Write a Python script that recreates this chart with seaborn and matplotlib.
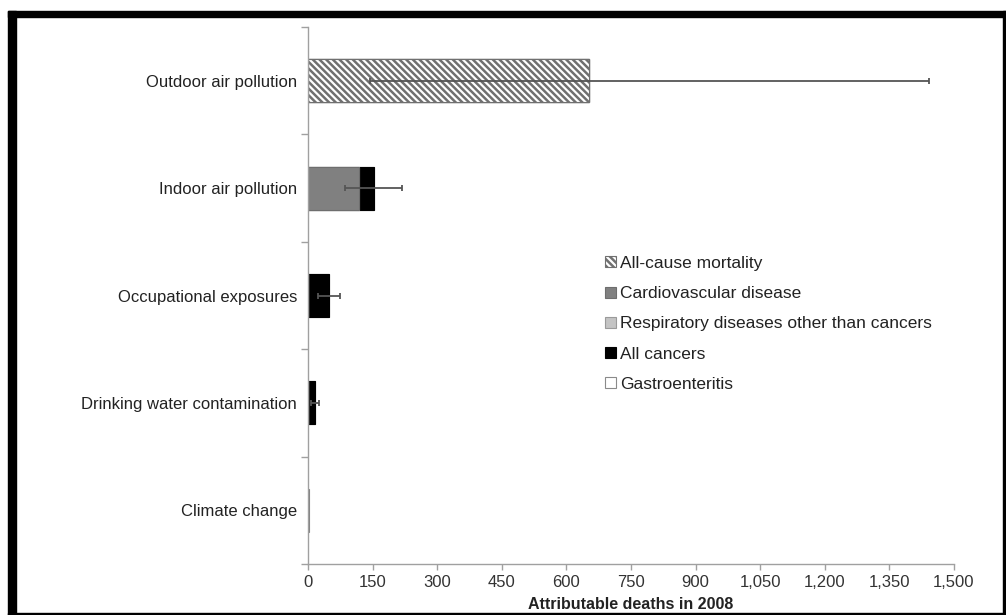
import numpy as np
import pandas as pd
import matplotlib
matplotlib.use("Agg")
import matplotlib.pyplot as plt
import matplotlib.patches as mpatches
import seaborn as sns

# Risk factors (top to bottom)
categories = ["Outdoor air pollution", "Indoor air pollution", "Occupational exposures",
              "Drinking water contamination", "Climate change"]

# Attributable deaths by cause, per risk factor
all_cause = [652, 0, 0, 0, 0]
cardiovascular = [0, 118, 0, 0, 0]
respiratory = [0, 0, 0, 0, 0]
all_cancers = [0, 35, 49, 16, 0]
gastroenteritis = [0, 0, 0, 0, 2]

# Uncertainty interval of the total
ci_low = [144, 86, 24, 6, 2]
ci_high = [1442, 218, 74, 26, 2]

series_names = ["All-cause mortality", "Cardiovascular disease",
                "Respiratory diseases other than cancers", "All cancers", "Gastroenteritis"]
x_ticks = [0, 150, 300, 450, 600, 750, 900, 1050, 1200, 1350, 1500]

sns.set_theme(style="white")
plt.rcParams["font.family"] = ["Liberation Sans", "DejaVu Sans"]
plt.rcParams["hatch.color"] = "#707070"
plt.rcParams["hatch.linewidth"] = 1.8

HATCH = "\\" * 5
fills = ["white", "#808080", "#c4c4c4", "black", "white"]
edges = ["#707070", "#6e6e6e", "#9a9a9a", "black", "#8a8a8a"]

segments = np.array([all_cause, cardiovascular, respiratory, all_cancers, gastroenteritis], dtype=float)
cumulative = np.cumsum(segments, axis=0)
totals = cumulative[-1]

fig = plt.figure(figsize=(10.06, 6.15), dpi=100)
ax = fig.add_axes([0.3062, 0.0829, 0.6421, 0.8731])

# Stacked horizontal bars: draw the running totals from the outermost layer inwards
for i in range(len(series_names) - 1, -1, -1):
    df = pd.DataFrame({"factor": categories, "deaths": cumulative[i]})
    sns.barplot(data=df, x="deaths", y="factor", order=categories, orient="h",
                color=fills[i], edgecolor=edges[i], linewidth=0.8, width=0.4,
                saturation=1, ax=ax, errorbar=None)

# Hatch the all-cause layer (last drawn set of bars)
n = len(categories)
for p, v in zip(ax.patches[-n:], all_cause):
    if v > 0:
        p.set_hatch(HATCH)
        p.set_edgecolor("#707070")

# Uncertainty ranges around the totals
ypos = np.arange(n)
xerr = np.array([totals - np.array(ci_low), np.array(ci_high) - totals])
mask = np.array(ci_high) > np.array(ci_low)
ax.errorbar(totals[mask], ypos[mask], xerr=xerr[:, mask], fmt="none",
            ecolor="#555555", elinewidth=1.3, capsize=2.5, capthick=1.3, zorder=5)

ax.set_xlim(0, 1500)
ax.set_ylim(n - 0.5, -0.5)
ax.set_xticks(x_ticks)
ax.set_xticklabels([f"{t:,}" for t in x_ticks])
ax.set_yticks(ypos)
ax.set_yticklabels(categories)
ax.set_yticks(np.arange(-0.5, n, 1.0), minor=True)
ax.set_ylabel("")
ax.set_xlabel("Attributable deaths in 2008", fontsize=11.5, fontweight="bold",
              color="#222222", labelpad=5)

for side in ["top", "right"]:
    ax.spines[side].set_visible(False)
for side in ["left", "bottom"]:
    ax.spines[side].set_color("#a0a0a0")
    ax.spines[side].set_linewidth(1.0)

ax.tick_params(axis="x", which="major", direction="out", length=4, width=1,
               color="#a0a0a0", labelsize=12, labelcolor="#333333", pad=4, bottom=True)
ax.tick_params(axis="y", which="major", length=0, labelsize=12,
               labelcolor="#222222", pad=8)
ax.tick_params(axis="y", which="minor", direction="out", length=5, width=1,
               color="#a0a0a0", left=True)

handles = []
for i, name in enumerate(series_names):
    h = mpatches.Patch(facecolor=fills[i], edgecolor=edges[i], linewidth=0.8, label=name)
    if i == 0:
        h.set_hatch(HATCH)
    handles.append(h)
ax.legend(handles=handles, loc="upper left", bbox_to_anchor=(0.447, 0.590),
          frameon=False, fontsize=12.5, handlelength=0.6, handleheight=0.6,
          handletextpad=0.25, labelspacing=0.88, borderpad=0, labelcolor="#222222")

# Black frame around the figure
frame_kw = dict(transform=fig.transFigure, color="black", zorder=10, clip_on=False)
fig.patches.append(mpatches.Rectangle((8 / 1006, 0), 8 / 1006, 1 - 11 / 615, **frame_kw))
fig.patches.append(mpatches.Rectangle((8 / 1006, 1 - 17 / 615), 1 - 8 / 1006, 6 / 615, **frame_kw))
fig.patches.append(mpatches.Rectangle((1003 / 1006, 0), 3 / 1006, 1 - 11 / 615, **frame_kw))
fig.patches.append(mpatches.Rectangle((8 / 1006, 0), 1 - 8 / 1006, 2 / 615, **frame_kw))

fig.savefig("out.png", dpi=100)
